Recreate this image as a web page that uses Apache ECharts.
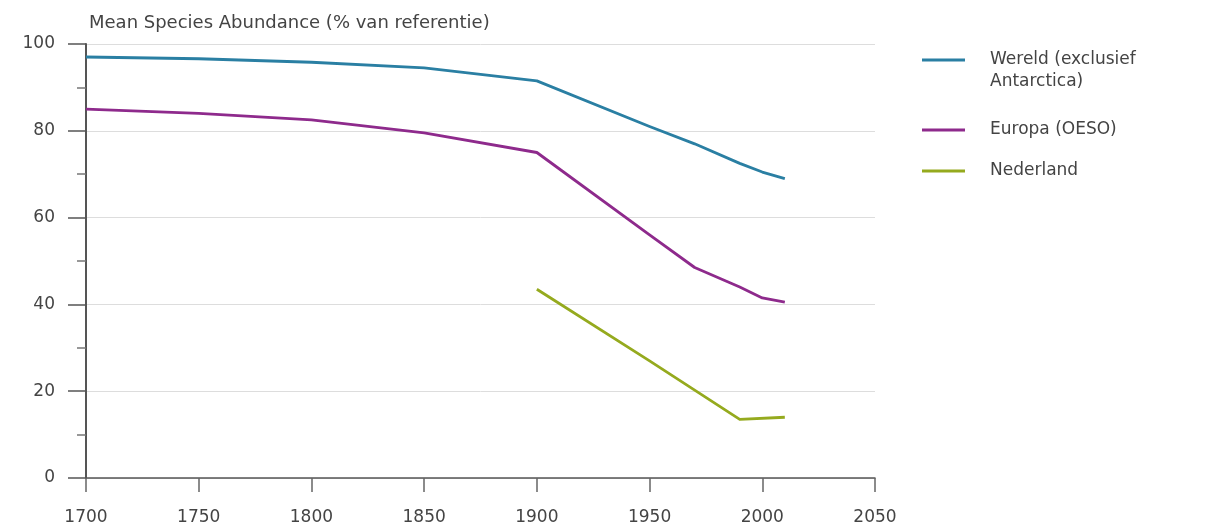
<!DOCTYPE html>
<html>
<head>
<meta charset="utf-8">
<script src="https://cdn.jsdelivr.net/npm/echarts@6/dist/echarts.min.js"></script>
<style>html,body{margin:0;padding:0;background:#fff}#c{width:1224px;height:526px}</style>
</head>
<body>
<div id="c"></div>
<script>
const titleText = 'Mean Species Abundance (% van referentie)';
const seriesNames = ['Wereld (exclusief Antarctica)', 'Europa (OESO)', 'Nederland'];
const yearsWorld = [1700, 1750, 1800, 1850, 1900, 1950, 1970, 1990, 2000, 2010];
const valuesWorld = [97, 96.6, 95.8, 94.5, 91.5, 81, 77, 72.5, 70.5, 69];
const yearsEurope = [1700, 1750, 1800, 1850, 1900, 1950, 1970, 1990, 2000, 2010];
const valuesEurope = [85, 84, 82.5, 79.5, 75, 56, 48.5, 44, 41.5, 40.5];
const yearsNL = [1900, 1950, 1990, 2010];
const valuesNL = [43.5, 27, 13.5, 14];
const colors = ['#2a7fa3', '#8e2a8c', '#95aa1e'];

const pairs = (xs, ys) => xs.map((x, i) => [x, ys[i]]);
const font = 'DejaVu Sans';

const mkSeries = (name, data, color) => ({
  name, type: 'line', data, showSymbol: false, symbol: 'none',
  lineStyle: { color, width: 2.8, join: 'round' }, itemStyle: { color }
});

const chart = echarts.init(document.getElementById('c'));
chart.setOption({
  animation: false,
  textStyle: { fontFamily: font },
  title: {
    text: titleText, left: 84, top: 9,
    textStyle: { fontSize: 18, fontWeight: 'normal', color: '#444', fontFamily: font }
  },
  legend: [
    {
      data: [seriesNames[0]], orient: 'vertical', left: 922, top: 27, padding: 0,
      icon: 'rect', itemWidth: 43, itemHeight: 3,
      formatter: () => '\u00a0\nWereld (exclusief\nAntarctica)',
      textStyle: { fontSize: 17, color: '#444', lineHeight: 22, padding: [0, 0, 0, 20], fontFamily: font }
    },
    {
      data: [seriesNames[1], seriesNames[2]], orient: 'vertical', left: 922, top: 119, padding: 0,
      itemGap: 19, icon: 'rect', itemWidth: 43, itemHeight: 3,
      textStyle: { fontSize: 17, color: '#444', lineHeight: 22, padding: [0, 0, 0, 20], fontFamily: font }
    }
  ],
  grid: { left: 86, right: 349, top: 44, bottom: 46, containLabel: false },
  xAxis: {
    type: 'value', min: 1700, max: 2050, interval: 50,
    axisLine: { show: true, lineStyle: { color: '#555', width: 1.5 } },
    axisTick: { show: true, length: 14, lineStyle: { color: '#666', width: 1.5 } },
    axisLabel: { margin: 31, fontSize: 17, color: '#444', fontFamily: font, formatter: v => String(v) },
    splitLine: { show: false }
  },
  yAxis: {
    type: 'value', min: 0, max: 100, interval: 20,
    axisLine: { show: true, lineStyle: { color: '#555', width: 2 } },
    axisTick: { show: true, length: 18, lineStyle: { color: '#555', width: 1.5 } },
    minorTick: { show: true, splitNumber: 2, length: 9, lineStyle: { color: '#777', width: 1.5 } },
    axisLabel: { margin: 31, fontSize: 17, color: '#444', fontFamily: font },
    splitLine: { show: true, lineStyle: { color: '#ddd', width: 1 } }
  },
  series: [
    mkSeries(seriesNames[0], pairs(yearsWorld, valuesWorld), colors[0]),
    mkSeries(seriesNames[1], pairs(yearsEurope, valuesEurope), colors[1]),
    mkSeries(seriesNames[2], pairs(yearsNL, valuesNL), colors[2])
  ]
});
</script>
</body>
</html>
